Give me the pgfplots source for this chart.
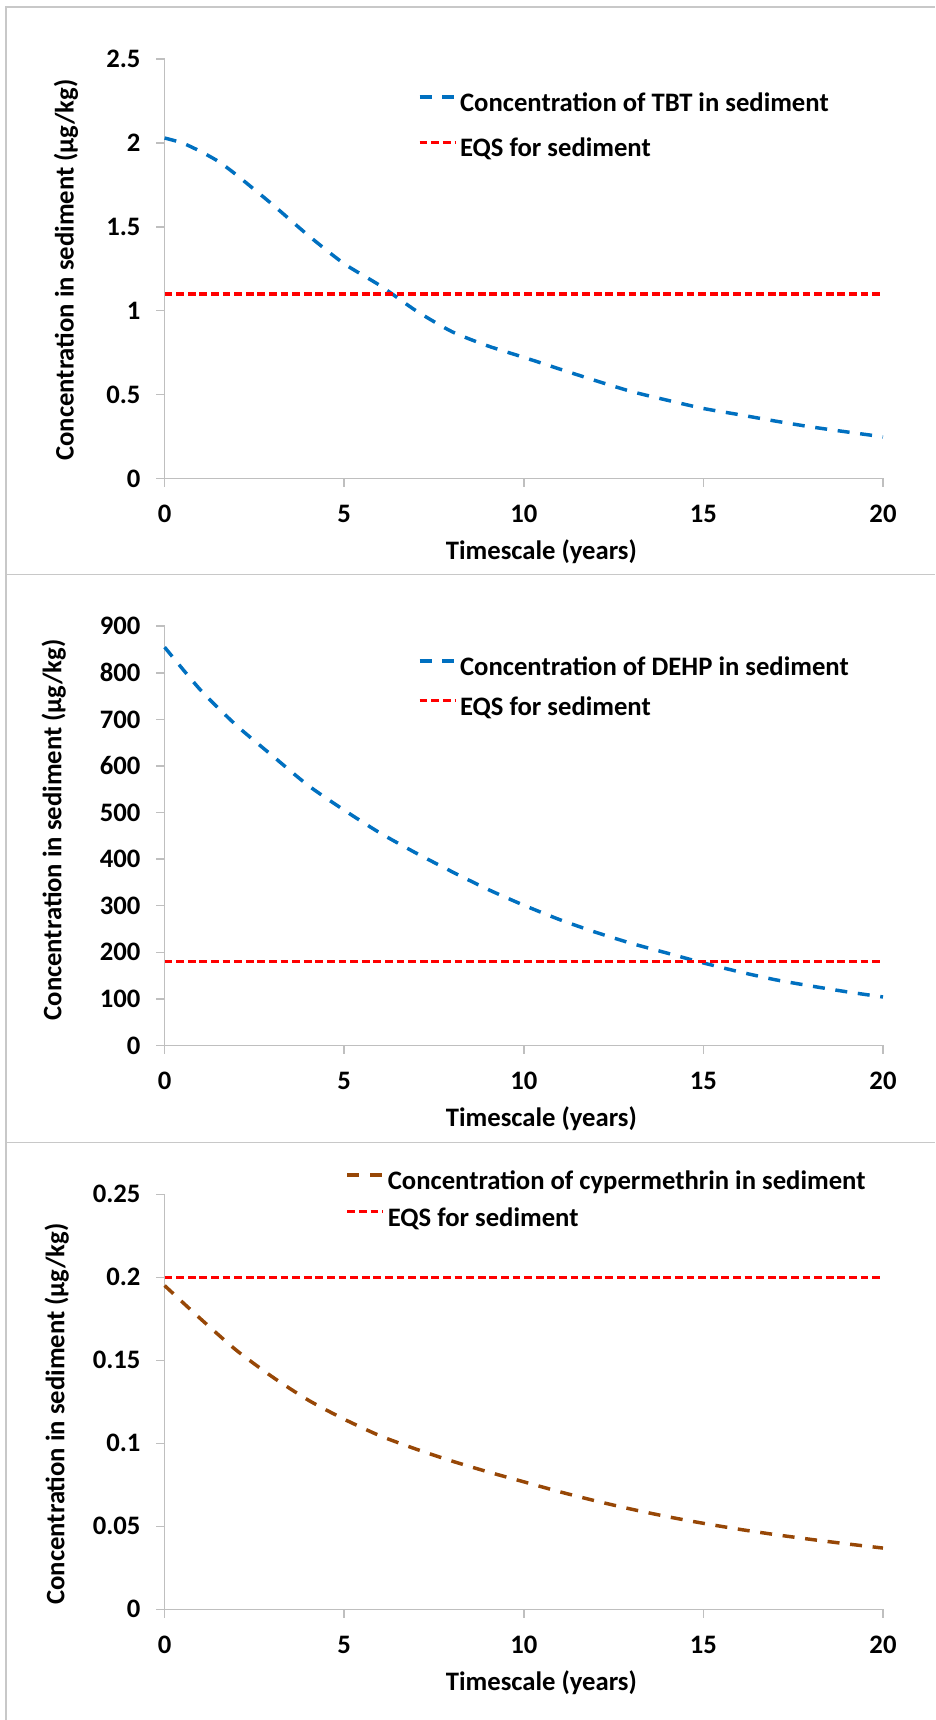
\documentclass[border=0pt]{standalone}
\usepackage{pgfplots}
\pgfplotsset{compat=1.18}
\usepackage{fontspec}
\setmainfont{Carlito}
\definecolor{tbtblue}{RGB}{0,112,192}
\definecolor{eqsred}{RGB}{255,0,0}
\definecolor{cypbrown}{RGB}{151,71,6}
\definecolor{axgray}{RGB}{191,191,191}
\definecolor{framegray}{RGB}{200,200,200}
\newcommand{\chartfont}{\fontsize{20}{24}\selectfont\bfseries}

\pgfplotsset{
  panel/.style={
    scale only axis, width=538.8pt,
    xmin=0, xmax=20, xtick={0,5,10,15,20}, xticklabels={0,5,10,15,20},
    axis lines*=left,
    axis line style={axgray, line width=1.1pt},
    tick align=outside, major tick length=6.4pt,
    tick style={axgray, line width=1.1pt},
    ticklabel style={font=\chartfont},
    xticklabel style={anchor=north, inner sep=0pt, yshift=-13.6pt},
    yticklabel style={anchor=east, inner sep=0pt, xshift=-11.5pt},
    label style={font=\chartfont},
    xlabel={Timescale (years)},
    ylabel={Concentration in sediment (µg/kg)},
    xlabel style={at={(axis description cs:0.5245,-0.1756)}, anchor=center},
    legend cell align=left,
    legend image code/.code={\draw[#1] (0pt,6pt) -- (27pt,6pt);},
    clip=false,
  },
  conc/.style={line width=2.6pt, dash pattern=on 9pt off 8pt, line cap=butt, smooth, tension=0.4},
  eqs/.style={eqsred, line width=2.5pt, dash pattern=on 5.8pt off 2.9pt, line cap=butt},
}

\begin{document}
\begin{tikzpicture}
\useasboundingbox (0,0) rectangle (701.25pt,-1290pt);
\draw[framegray, line width=1.1pt] (4.5pt,-1290pt) -- (4.5pt,-5.25pt) -- (701.25pt,-5.25pt);
\draw[framegray, line width=1.1pt] (4.5pt,-430.9pt) -- (701.25pt,-430.9pt);
\draw[framegray, line width=1.1pt] (4.5pt,-856.9pt) -- (701.25pt,-856.9pt);

% Panel 1: TBT
\begin{axis}[panel, at={(123.45pt,-358.8pt)}, anchor=south west, height=314.4pt,
  ymin=0, ymax=2.5, ytick={0,0.5,1,1.5,2,2.5}, yticklabels={0,0.5,1,1.5,2,2.5},
  ylabel style={at={(axis description cs:-0.1372,0.497)}, anchor=center},
  legend style={at={(axis description cs:0.3527,0.9189)}, anchor=north west, draw=none, fill=none,
    inner sep=0pt, outer sep=0pt, row sep=15.75pt, font=\chartfont,
    nodes={inner xsep=2pt, inner ysep=0pt, text height=14pt, text depth=4pt}}]
\addplot[conc, tbtblue] coordinates {
 (0,2.03) (0.5,2.00) (1,1.95) (1.5,1.89) (2,1.81) (3,1.634) (4,1.449) (5,1.28) (6,1.15)
 (7,1.0) (8,0.875) (9,0.79) (10,0.722) (11,0.652) (12,0.583) (13,0.518) (14,0.466)
 (15,0.417) (16,0.380) (17,0.342) (18,0.307) (19,0.277) (20,0.248)};
\addlegendentry{Concentration of TBT in sediment}
\addplot[eqs] coordinates {(0,1.1) (20,1.1)};
\addlegendentry{EQS for sediment}
\end{axis}

% Panel 2: DEHP
\begin{axis}[panel, at={(123.45pt,-784.05pt)}, anchor=south west, height=314.4pt,
  ymin=0, ymax=900, ytick={0,100,...,900}, yticklabels={0,100,200,300,400,500,600,700,800,900},
  ylabel style={at={(axis description cs:-0.1544,0.514)}, anchor=center},
  legend style={at={(axis description cs:0.3527,0.9265)}, anchor=north west, draw=none, fill=none,
    inner sep=0pt, outer sep=0pt, row sep=11.7pt, font=\chartfont,
    nodes={inner xsep=2pt, inner ysep=0pt, text height=14pt, text depth=4pt}}]
\addplot[conc, tbtblue] coordinates {
 (0,855) (1,763) (2,687) (3,622) (4,558) (5,505) (6,456) (7,413) (8,373) (9,335)
 (10,301) (11,270) (12,243) (13,219) (14,198) (15,177) (16,158) (17,141) (18,127.5)
 (19,115) (20,104)};
\addlegendentry{Concentration of DEHP in sediment}
\addplot[eqs] coordinates {(0,180) (20,180)};
\addlegendentry{EQS for sediment}
\end{axis}

% Panel 3: cypermethrin
\begin{axis}[panel, at={(123.45pt,-1206.98pt)}, anchor=south west, height=311.3pt,
  ymin=0, ymax=0.25, ytick={0,0.05,0.1,0.15,0.2,0.25}, yticklabels={0,0.05,0.1,0.15,0.2,0.25},
  ylabel style={at={(axis description cs:-0.1502,0.4705)}, anchor=center},
  legend style={at={(axis description cs:0.2521,1.0556)}, anchor=north west, draw=none, fill=none,
    inner sep=0pt, outer sep=0pt, row sep=9.4pt, font=\chartfont,
    nodes={inner xsep=2pt, inner ysep=0pt, text height=14pt, text depth=4pt}}]
\addplot[conc, cypbrown] coordinates {
 (0,0.195) (1,0.175) (2,0.156) (3,0.140) (4,0.126) (5,0.1145) (6,0.1045) (7,0.0965)
 (8,0.0893) (9,0.0828) (10,0.0768) (11,0.0708) (12,0.0653) (13,0.0603) (14,0.0558)
 (15,0.0518) (16,0.0482) (17,0.0450) (18,0.0421) (19,0.0394) (20,0.0369)};
\addlegendentry{Concentration of cypermethrin in sediment}
\addplot[eqs] coordinates {(0,0.2) (20,0.2)};
\addlegendentry{EQS for sediment}
\end{axis}
\end{tikzpicture}
\end{document}
